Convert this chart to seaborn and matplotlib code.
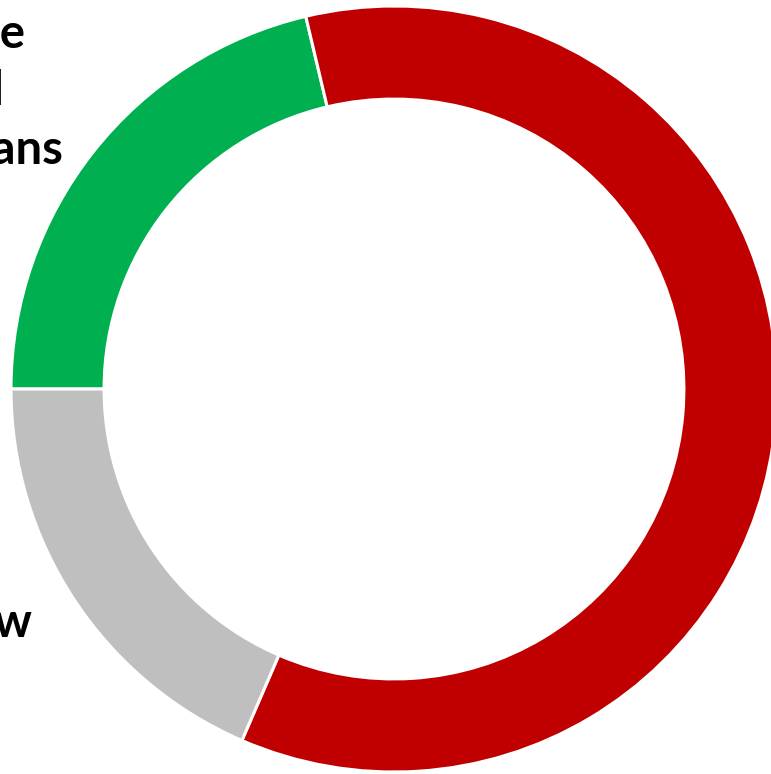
import matplotlib
matplotlib.use("Agg")
import matplotlib.pyplot as plt
import seaborn as sns

sns.set_theme(style="white")
plt.rcParams['font.family'] = ['Lato', 'DejaVu Sans']

# Data (clockwise from 9 o'clock)
categories = ["Like good Republicans", "Other", "Don't know"]
values = [21.3, 60.2, 18.5]
colors = ["#00B050", "#C00000", "#BFBFBF"]

W, H = 771, 774
fig = plt.figure(figsize=(W / 100, H / 100), dpi=100)
fig.patch.set_facecolor("white")

cx, cy, R = 394, 389, 383
ax = fig.add_axes([(cx - R) / W, (H - cy - R) / H, 2 * R / W, 2 * R / H])
ax.pie(values, colors=colors, startangle=180, counterclock=False,
       radius=1.0,
       wedgeprops=dict(width=0.243, edgecolor="white", linewidth=2.2))
ax.set_xlim(-1, 1)
ax.set_ylim(-1, 1)
ax.set_aspect("equal")
ax.axis("off")

# Labels (partly outside the canvas on the left, as in the reference)
label_lines = [("Like", 25, 48), ("Good", 4, 105), ("Republicans", 63, 164),
               ("Don't know", 32, 637)]
for txt, xr, yb in label_lines:
    fig.text(xr / W, 1 - yb / H, txt, ha="right", va="baseline",
             fontsize=34, fontweight="bold", color="black")

fig.savefig("out.png", dpi=100, facecolor="white")
